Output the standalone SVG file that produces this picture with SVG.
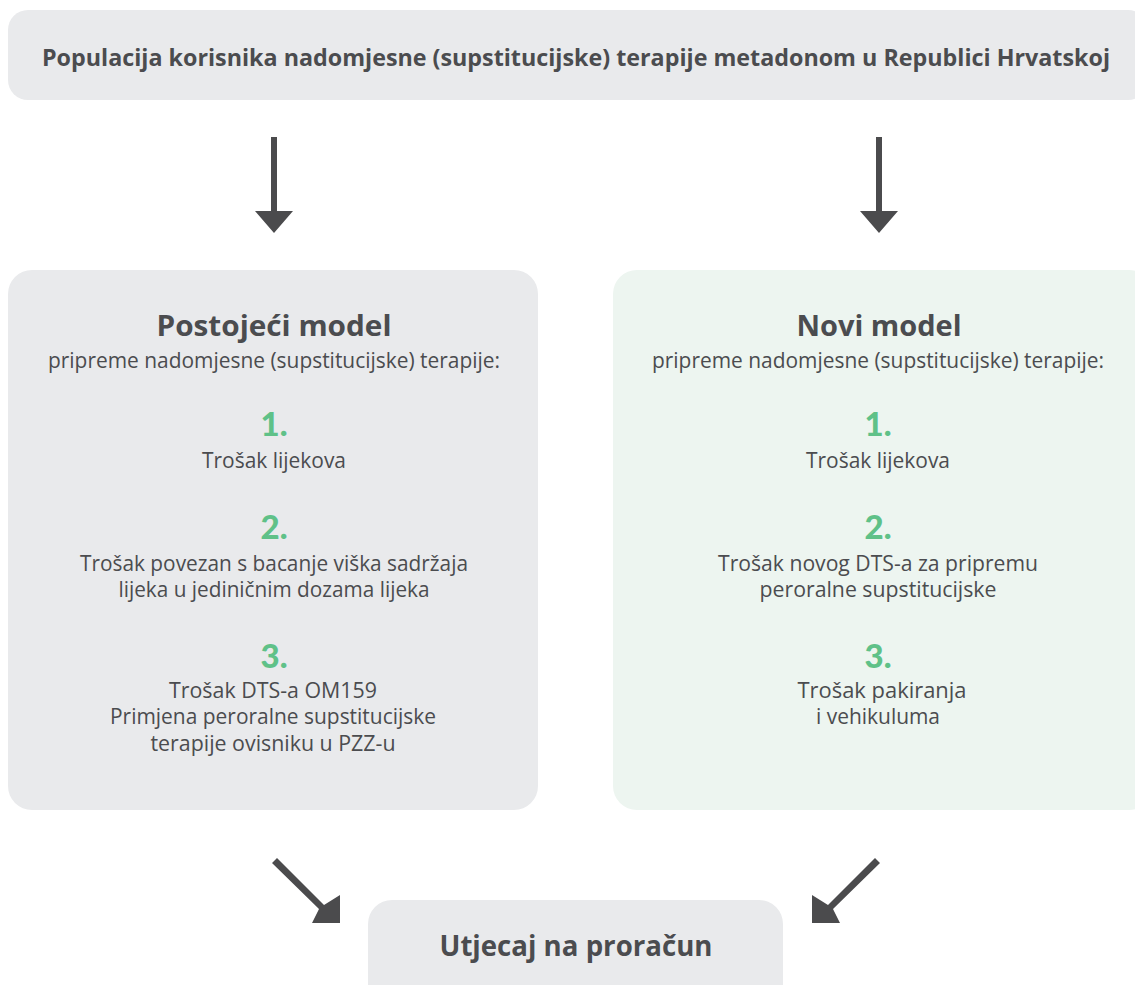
<svg xmlns="http://www.w3.org/2000/svg" width="1135" height="985" viewBox="0 0 1135 985">
<style>
.box{fill:#e9eaec}
.gbox{fill:#edf5f0}
text{font-family:"Open Sans","Noto Sans","Liberation Sans",sans-serif;fill:#4b4c4f;text-anchor:middle}
.head{font-weight:700;font-size:23px}
.title{font-weight:700;font-size:29px}
.sub{font-size:21px}
.body{font-size:21px}
.num{font-family:Lato,"Open Sans",sans-serif;font-weight:900;font-size:33px;fill:#5fc188}
.big{font-weight:700;font-size:29px}
.conn{fill:#4b4b4d}
</style>
<rect width="1135" height="985" fill="#ffffff"/>
<g id="top">
<rect class="box" x="8" y="10" width="1140" height="90" rx="20"/>
<text class="head" x="576" y="66" textLength="1068" lengthAdjust="spacingAndGlyphs">Populacija korisnika nadomjesne (supstitucijske) terapije metadonom u Republici Hrvatskoj</text>
</g>
<g id="left">
<rect class="box" x="8" y="270" width="530" height="540" rx="24"/>
<text class="title" x="274" y="336" textLength="235" lengthAdjust="spacingAndGlyphs">Postojeći model</text>
<text class="sub" x="274" y="368" textLength="452" lengthAdjust="spacingAndGlyphs">pripreme nadomjesne (supstitucijske) terapije:</text>
<text class="num" x="274" y="436">1.</text>
<text class="body" x="274" y="468" textLength="144" lengthAdjust="spacingAndGlyphs">Trošak lijekova</text>
<text class="num" x="274" y="539">2.</text>
<text class="body" x="274" y="571" textLength="388" lengthAdjust="spacingAndGlyphs">Trošak povezan s bacanje viška sadržaja</text>
<text class="body" x="274" y="597" textLength="311" lengthAdjust="spacingAndGlyphs">lijeka u jediničnim dozama lijeka</text>
<text class="num" x="274" y="668">3.</text>
<text class="body" x="273" y="698" textLength="208" lengthAdjust="spacingAndGlyphs">Trošak DTS-a OM159</text>
<text class="body" x="273" y="724" textLength="326" lengthAdjust="spacingAndGlyphs">Primjena peroralne supstitucijske</text>
<text class="body" x="273" y="751" textLength="245" lengthAdjust="spacingAndGlyphs">terapije ovisniku u PZZ-u</text>
</g>
<g id="right">
<rect class="gbox" x="613" y="270" width="540" height="540" rx="24"/>
<text class="title" x="879" y="336" textLength="165" lengthAdjust="spacingAndGlyphs">Novi model</text>
<text class="sub" x="878" y="368" textLength="452" lengthAdjust="spacingAndGlyphs">pripreme nadomjesne (supstitucijske) terapije:</text>
<text class="num" x="878" y="436">1.</text>
<text class="body" x="878" y="468" textLength="144" lengthAdjust="spacingAndGlyphs">Trošak lijekova</text>
<text class="num" x="878" y="539">2.</text>
<text class="body" x="878" y="571" textLength="320" lengthAdjust="spacingAndGlyphs">Trošak novog DTS-a za pripremu</text>
<text class="body" x="878" y="597" textLength="237" lengthAdjust="spacingAndGlyphs">peroralne supstitucijske</text>
<text class="num" x="878" y="668">3.</text>
<text class="body" x="882" y="698" textLength="169" lengthAdjust="spacingAndGlyphs">Trošak pakiranja</text>
<text class="body" x="878" y="724" textLength="124" lengthAdjust="spacingAndGlyphs">i vehikuluma</text>
</g>
<g id="bottom">
<rect class="box" x="368" y="900" width="415" height="110" rx="24"/>
<text class="big" x="576" y="956" textLength="273" lengthAdjust="spacingAndGlyphs">Utjecaj na proračun</text>
</g>
<g id="connectors">
<path class="conn" d="M271 137 H277 V211 H293 L274 233 L255 211 H271 Z"/>
<path class="conn" d="M876 137 H882 V211 H898 L879 233 L860 211 H876 Z"/>
<path class="conn" d="M272 863 L277 858 L324 905 L340 895 L340 923 L312 923 L319 909 Z"/>
<path class="conn" d="M880 863 L875 858 L828 905 L812 895 L812 923 L840 923 L833 909 Z"/>
</g>
</svg>
